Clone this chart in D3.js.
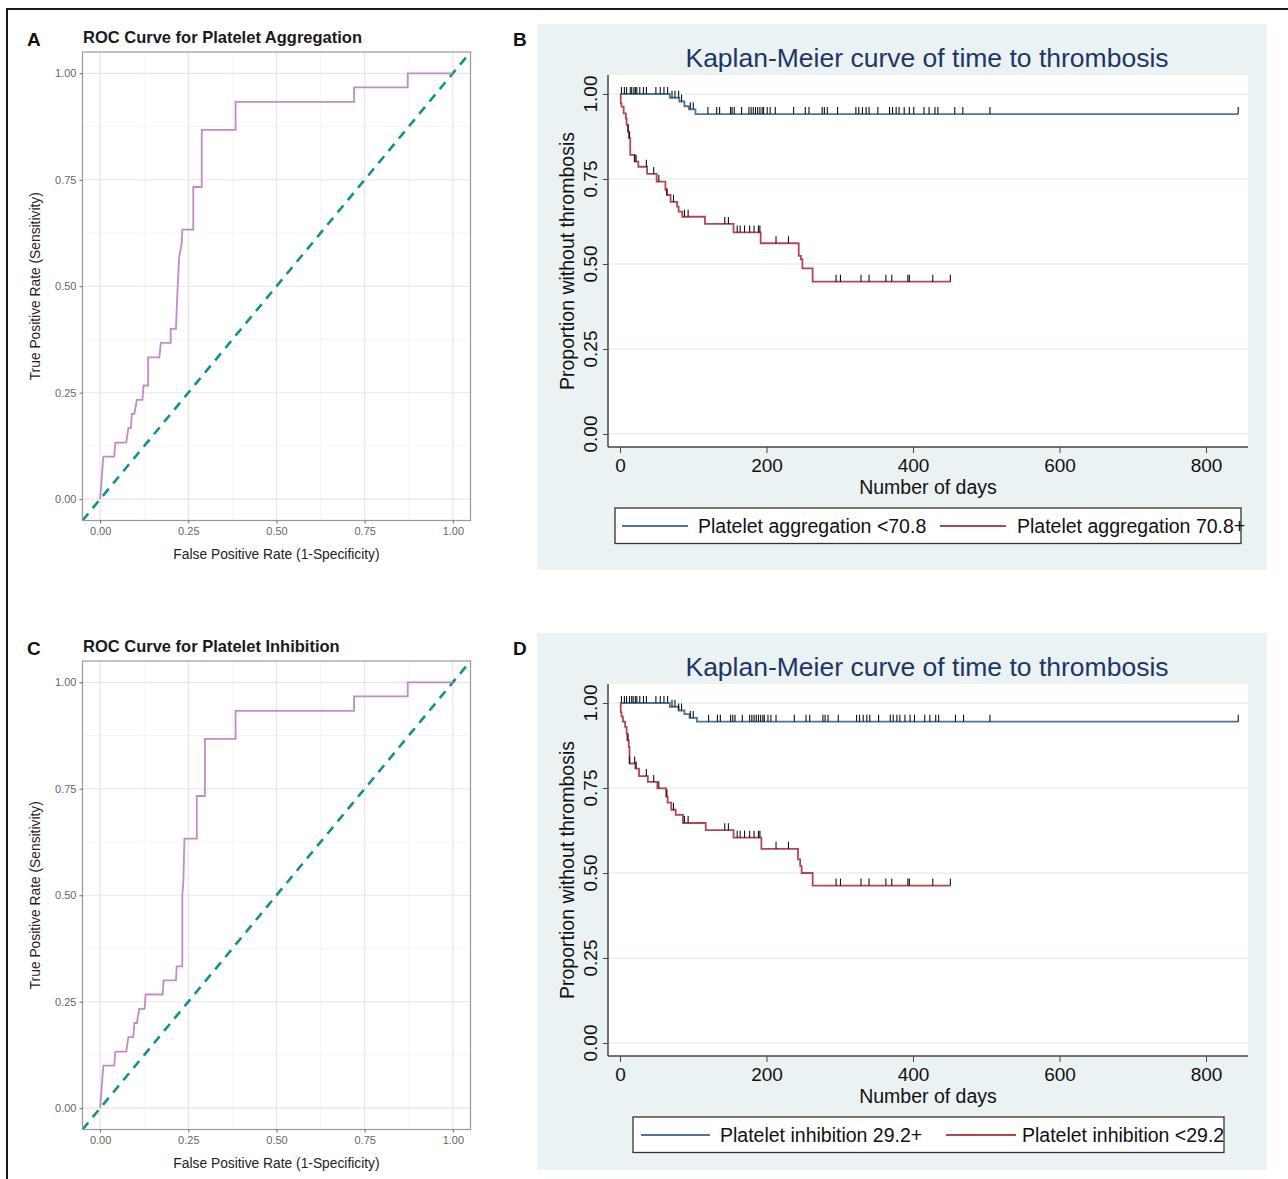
<!DOCTYPE html>
<html><head><meta charset="utf-8">
<script src="https://cdn.jsdelivr.net/npm/d3@7"></script>
<style>body{margin:0;background:#fff} svg{display:block}</style>
</head><body>
<svg id="chart" width="1288" height="1179"></svg>
<script>
// ---------- DATA ----------
const rocTicks = [0, 0.25, 0.5, 0.75, 1];
const rocMinor = [0.125, 0.375, 0.625, 0.875];

const rocAggFpr = [0,0.009,0.040,0.043,0.074,0.080,0.087,0.090,0.097,0.104,0.120,0.123,0.136,0.136,0.168,0.172,0.200,0.200,0.215,0.218,0.224,0.231,0.233,0.264,0.264,0.288,0.288,0.384,0.384,0.720,0.720,0.872,0.872,1.0];
const rocAggTpr = [0,0.100,0.100,0.133,0.133,0.167,0.167,0.200,0.200,0.233,0.233,0.267,0.267,0.333,0.333,0.367,0.367,0.400,0.400,0.467,0.567,0.600,0.633,0.633,0.733,0.733,0.867,0.867,0.933,0.933,0.967,0.967,1.0,1.0];

const rocInhFpr = [0,0.009,0.040,0.043,0.074,0.080,0.094,0.097,0.104,0.111,0.126,0.129,0.177,0.180,0.215,0.217,0.233,0.233,0.236,0.239,0.274,0.274,0.297,0.297,0.384,0.384,0.720,0.720,0.872,0.872,1.0];
const rocInhTpr = [0,0.100,0.100,0.133,0.133,0.167,0.167,0.200,0.200,0.233,0.233,0.267,0.267,0.300,0.300,0.333,0.333,0.500,0.533,0.633,0.633,0.733,0.733,0.867,0.867,0.933,0.933,0.967,0.967,1.0,1.0];

const kmXTicks = [0, 200, 400, 600, 800];
const kmYTicks = [0, 0.25, 0.5, 0.75, 1];

// Panel B
const bLowTime = [0,68,81,88,94,103,844];
const bLowSurv = [1.0,0.989,0.978,0.964,0.955,0.941,0.941];
const bLowCens = [2,6,9,14,16,19,21,23,27,32,36,49,55,60,65,71,75,80,84,96,100,120,132,136,151,153,156,166,176,179,182,185,188,191,194,196,201,205,212,237,253,258,276,279,283,297,322,326,331,336,340,352,368,372,377,381,388,395,401,415,422,430,434,457,468,505,844];
const bHighTime = [0,1,2,5,8,9,11,12,14,20,25,37,50,62,64,69,78,80,85,116,155,192,244,247,249,263,451];
const bHighSurv = [1.0,0.973,0.963,0.943,0.928,0.909,0.889,0.870,0.821,0.801,0.786,0.765,0.742,0.718,0.703,0.683,0.669,0.654,0.639,0.618,0.593,0.561,0.524,0.514,0.487,0.448,0.448];
const bHighCens = [11,13,20,22,36,46,53,64,73,88,93,143,148,160,164,170,177,183,189,191,213,230,295,301,329,340,363,371,393,395,427,451];

// Panel D
const dHighTime = [0,68,80,88,95,105,844];
const dHighSurv = [1.0,0.989,0.978,0.967,0.956,0.945,0.945];
const dHighCens = [2,6,9,13,16,18,21,23,27,32,36,49,55,60,65,71,75,80,84,96,100,121,133,137,151,154,157,167,177,180,183,186,189,192,195,197,202,206,213,238,254,259,277,280,284,298,323,327,332,337,341,353,369,373,378,382,389,396,402,416,423,431,435,458,469,505,844];
const dLowTime = [0,1,2,4,7,9,10,12,13,21,26,38,51,63,65,70,76,86,117,155,193,243,246,248,263,451];
const dLowSurv = [1.0,0.973,0.960,0.945,0.930,0.910,0.890,0.870,0.822,0.807,0.785,0.768,0.749,0.725,0.707,0.686,0.671,0.647,0.626,0.604,0.571,0.540,0.520,0.500,0.463,0.463];
const dLowCens = [11,13,20,22,36,46,53,64,73,88,93,143,148,160,164,170,177,183,189,191,213,230,295,301,329,340,363,371,393,395,427,451];

// ---------- DRAW ----------
const FONT = "'Liberation Sans', Arial, Helvetica, sans-serif";
const svg = d3.select("#chart");
svg.append("rect").attr("x",7).attr("y",9).attr("width",1300).attr("height",1200)
  .attr("fill","#fff").attr("stroke","#1a1a1a").attr("stroke-width",2);

function drawROC(oy, letter, title, fpr, tpr) {
  const g = svg.append("g").attr("transform", `translate(0,${oy})`);
  const x = d3.scaleLinear().domain([-0.05,1.05]).range([82.5,470.5]);
  const y = d3.scaleLinear().domain([-0.05,1.05]).range([520.5,52]);
  g.append("text").attr("x",27).attr("y",46).text(letter)
    .attr("font-family",FONT).attr("font-weight","bold").attr("font-size",19).attr("fill","#111");
  g.append("text").attr("x",83).attr("y",42.5).text(title)
    .attr("font-family",FONT).attr("font-weight","bold").attr("font-size",16.5).attr("fill","#1a1a1a");
  g.append("rect").attr("x",x(-0.05)).attr("y",y(1.05)).attr("width",x(1.05)-x(-0.05)).attr("height",y(-0.05)-y(1.05)).attr("fill","#fff");
  rocMinor.forEach(v=>{
    g.append("line").attr("x1",x(v)).attr("x2",x(v)).attr("y1",y(1.05)).attr("y2",y(-0.05)).attr("stroke","#f2f2f2").attr("stroke-width",0.8);
    g.append("line").attr("y1",y(v)).attr("y2",y(v)).attr("x1",x(-0.05)).attr("x2",x(1.05)).attr("stroke","#f2f2f2").attr("stroke-width",0.8);
  });
  rocTicks.forEach(v=>{
    g.append("line").attr("x1",x(v)).attr("x2",x(v)).attr("y1",y(1.05)).attr("y2",y(-0.05)).attr("stroke","#e6e6e6").attr("stroke-width",1.2);
    g.append("line").attr("y1",y(v)).attr("y2",y(v)).attr("x1",x(-0.05)).attr("x2",x(1.05)).attr("stroke","#e6e6e6").attr("stroke-width",1.2);
  });
  // diagonal
  g.append("line").attr("x1",x(-0.05)).attr("y1",y(-0.05)).attr("x2",x(1.05)).attr("y2",y(1.05))
    .attr("stroke","#13908f").attr("stroke-width",2.6).attr("stroke-dasharray","9,7");
  // ROC curve
  const pts = fpr.map((f,i)=>[f,tpr[i]]);
  g.append("path").datum(pts).attr("fill","none").attr("stroke","#c28ac8").attr("stroke-width",1.8)
    .attr("d", d3.line().x(d=>x(d[0])).y(d=>y(d[1])));
  g.append("rect").attr("x",x(-0.05)).attr("y",y(1.05)).attr("width",x(1.05)-x(-0.05)).attr("height",y(-0.05)-y(1.05))
    .attr("fill","none").attr("stroke","#999").attr("stroke-width",1.2);
  const ax = g.append("g").attr("transform",`translate(0,${y(-0.05)})`)
    .call(d3.axisBottom(x).tickValues(rocTicks).tickFormat(d3.format(".2f")).tickSize(3).tickPadding(4));
  const ay = g.append("g").attr("transform",`translate(${x(-0.05)},0)`)
    .call(d3.axisLeft(y).tickValues(rocTicks).tickFormat(d3.format(".2f")).tickSize(3).tickPadding(3));
  [ax,ay].forEach(a=>{
    a.select(".domain").remove();
    a.selectAll(".tick line").attr("stroke","#666");
    a.selectAll("text").attr("font-family",FONT).attr("font-size",11).attr("fill","#666");
  });
  g.append("text").attr("x",(x(-0.05)+x(1.05))/2).attr("y",559).attr("text-anchor","middle")
    .text("False Positive Rate (1-Specificity)").attr("font-family",FONT).attr("font-size",13.8).attr("fill","#222");
  g.append("text").attr("transform",`translate(40,${(y(-0.05)+y(1.05))/2}) rotate(-90)`).attr("text-anchor","middle")
    .text("True Positive Rate (Sensitivity)").attr("font-family",FONT).attr("font-size",13.8).attr("fill","#222");
}

function survAt(times, surv, t) {
  let s = surv[0];
  for (let i=0;i<times.length;i++) { if (times[i] <= t) s = surv[i]; }
  return s;
}

function drawKM(oy, letter, series, legend, bgBottom) {
  const g = svg.append("g").attr("transform", `translate(0,${oy})`);
  const x = d3.scaleLinear().domain([0,800]).range([620,1206]);
  const y = d3.scaleLinear().domain([0,1]).range([434,94]);
  g.append("text").attr("x",513).attr("y",46).text(letter)
    .attr("font-family",FONT).attr("font-weight","bold").attr("font-size",19).attr("fill","#111");
  g.append("rect").attr("x",537).attr("y",24).attr("width",730).attr("height",bgBottom-24).attr("fill","#eaf2f3");
  g.append("rect").attr("x",608).attr("y",75).attr("width",640).attr("height",372).attr("fill","#fff");
  kmYTicks.forEach(v=>{
    g.append("line").attr("x1",608).attr("x2",1248).attr("y1",y(v)).attr("y2",y(v)).attr("stroke","#e6eff1").attr("stroke-width",1.5);
  });
  g.append("text").attr("x",927).attr("y",67).attr("text-anchor","middle").text("Kaplan-Meier curve of time to thrombosis")
    .attr("font-family",FONT).attr("font-size",26.5).attr("fill","#1e3566");
  // axes
  const ay = g.append("g").attr("transform","translate(608,0)")
    .call(d3.axisLeft(y).tickValues(kmYTicks).tickFormat(d3.format(".2f")).tickSize(5).tickSizeOuter(0));
  ay.select(".domain").attr("d","M0,75V447");
  ay.selectAll("text").remove();
  kmYTicks.forEach(v=>{
    g.append("text").attr("transform",`translate(597,${y(v)}) rotate(-90)`).attr("text-anchor","middle")
      .text(d3.format(".2f")(v)).attr("font-family",FONT).attr("font-size",19).attr("fill","#111");
  });
  const ax = g.append("g").attr("transform","translate(0,447)")
    .call(d3.axisBottom(x).tickValues(kmXTicks).tickSize(6).tickSizeOuter(0).tickPadding(6));
  ax.select(".domain").attr("d","M608,0H1248");
  ax.selectAll("text").attr("font-family",FONT).attr("font-size",19).attr("fill","#111");
  [ax,ay].forEach(a=>{ a.selectAll(".domain").attr("stroke","#444").attr("stroke-width",1.5); a.selectAll(".tick line").attr("stroke","#444"); });
  g.append("text").attr("x",928).attr("y",494).attr("text-anchor","middle").text("Number of days")
    .attr("font-family",FONT).attr("font-size",19.5).attr("fill","#111");
  g.append("text").attr("transform",`translate(574,261) rotate(-90)`).attr("text-anchor","middle")
    .text("Proportion without thrombosis").attr("font-family",FONT).attr("font-size",19.5).attr("fill","#111");
  // curves
  const line = d3.line().curve(d3.curveStepAfter).x(d=>x(d[0])).y(d=>y(d[1]));
  series.forEach(s=>{
    const pts = s.time.map((t,i)=>[t,s.surv[i]]);
    g.append("path").datum(pts).attr("fill","none").attr("stroke",s.color).attr("stroke-width",1.8).attr("d",line);
    s.cens.forEach(c=>{
      const yy = y(survAt(s.time,s.surv,c));
      g.append("line").attr("x1",x(c)).attr("x2",x(c)).attr("y1",yy-7).attr("y2",yy).attr("stroke","#111").attr("stroke-width",1.1);
    });
  });
  // legend
  g.append("rect").attr("x",legend.box[0]).attr("y",508).attr("width",legend.box[1]-legend.box[0]).attr("height",35.5)
    .attr("fill","#fff").attr("stroke","#333").attr("stroke-width",1.3);
  legend.items.forEach(it=>{
    g.append("line").attr("x1",it.l0).attr("x2",it.l1).attr("y1",526).attr("y2",526).attr("stroke",it.color).attr("stroke-width",2);
    g.append("text").attr("x",it.tx).attr("y",533).text(it.label).attr("font-family",FONT).attr("font-size",19.5).attr("fill","#111");
  });
}

drawROC(0, "A", "ROC Curve for Platelet Aggregation", rocAggFpr, rocAggTpr);
drawROC(609, "C", "ROC Curve for Platelet Inhibition", rocInhFpr, rocInhTpr);

const BLUE = "#4f739b", RED = "#b14850";
drawKM(0, "B", [
  {time:bLowTime, surv:bLowSurv, cens:bLowCens, color:BLUE},
  {time:bHighTime, surv:bHighSurv, cens:bHighCens, color:RED}
], {box:[615,1241], items:[
  {l0:622,l1:688,tx:698,color:BLUE,label:"Platelet aggregation <70.8"},
  {l0:940,l1:1006,tx:1017,color:RED,label:"Platelet aggregation 70.8+"}
]}, 570);
drawKM(609, "D", [
  {time:dHighTime, surv:dHighSurv, cens:dHighCens, color:BLUE},
  {time:dLowTime, surv:dLowSurv, cens:dLowCens, color:RED}
], {box:[633,1224], items:[
  {l0:641,l1:710,tx:720,color:BLUE,label:"Platelet inhibition 29.2+"},
  {l0:946,l1:1016,tx:1022,color:RED,label:"Platelet inhibition <29.2"}
]}, 561);
</script>
</body></html>
